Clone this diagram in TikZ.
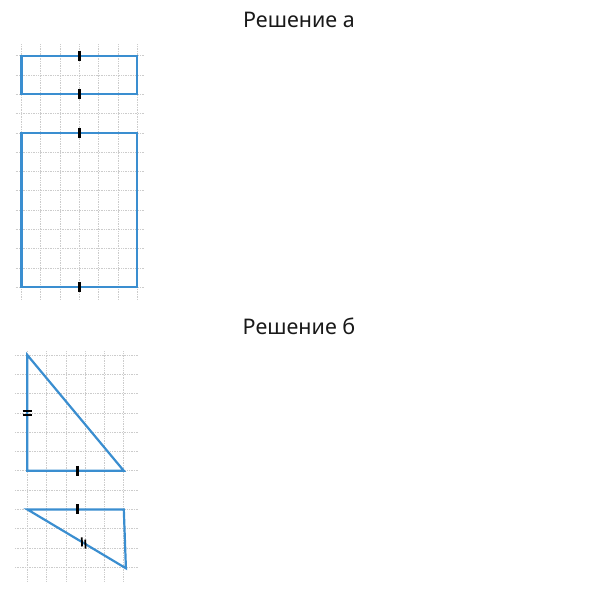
\documentclass[tikz,border=0pt]{standalone}
\usepackage{fontspec}
\setmainfont{Noto Sans}
\usetikzlibrary{calc}
\definecolor{figblue}{RGB}{58,142,208}

\begin{document}
\begin{tikzpicture}[x=1pt, y=-1pt,
		grid_style/.style={draw=gray!40, densely dotted, line width=0.7pt},
		shape_style/.style={draw=figblue, line width=2.2pt, line join=miter},
		tick_style/.style={draw=black, line width=2.4pt},
		title_style/.style={font=\fontsize{21.5}{24}\selectfont, text=black!90, anchor=base}]
		
		\useasboundingbox (0,0) rectangle (595,600);
		
		\node[title_style] (ta) at (299,27.7) {Решение а};
		\node[title_style] (tb) at (299,334) {Решение б};
		
		% Решение а
		\begin{scope}[shift={(21.5pt,-55.7pt)}, x=19.3pt, y=-19.3pt]
			\foreach \i in {0,...,6} \draw[grid_style] (\i,-0.6) -- (\i,12.65);
			\foreach \j in {0,...,12} \draw[grid_style] (-0.3,\j) -- (6.35,\j);
			\draw[shape_style] (0,0) rectangle (6,2);
			\draw[shape_style] (0,4) rectangle (6,12);
			\foreach \j in {0,2,4,12} \draw[tick_style] (3,\j-0.26) -- (3,\j+0.26);
		\end{scope}
		
		% Решение б
		\begin{scope}[shift={(27.3pt,-355pt)}, x=19.3pt, y=-19.3pt]
			\foreach \i in {0,...,5} \draw[grid_style] (\i,-0.2) -- (\i,11.75);
			\foreach \j in {0,...,11} \draw[grid_style] (-0.64,\j) -- (5.78,\j);
			\coordinate (a1) at (0,0);
			\coordinate (a2) at (0,6);
			\coordinate (a3) at (5,6);
			\coordinate (b1) at (0,8);
			\coordinate (b2) at (5,8);
			\coordinate (b3) at (5.11,11.05);
			\draw[shape_style] (a1) -- (a2) -- (a3) -- cycle;
			\draw[shape_style] (b1) -- (b2) -- (b3) -- cycle;
			% marks
			\draw[tick_style] (2.6,5.74) -- (2.6,6.26);
			\draw[tick_style] (2.6,7.74) -- (2.6,8.26);
			\foreach \d in {-0.09,0.09} \draw[line width=1.8pt] (-0.24,3+\d) -- (0.24,3+\d);
			\draw[line width=1.8pt] (2.82,9.45) -- (2.84,9.92);
			\draw[line width=1.8pt] (3.0,9.56) -- (3.02,10.03);
		\end{scope}
		
\end{tikzpicture}
\end{document}
